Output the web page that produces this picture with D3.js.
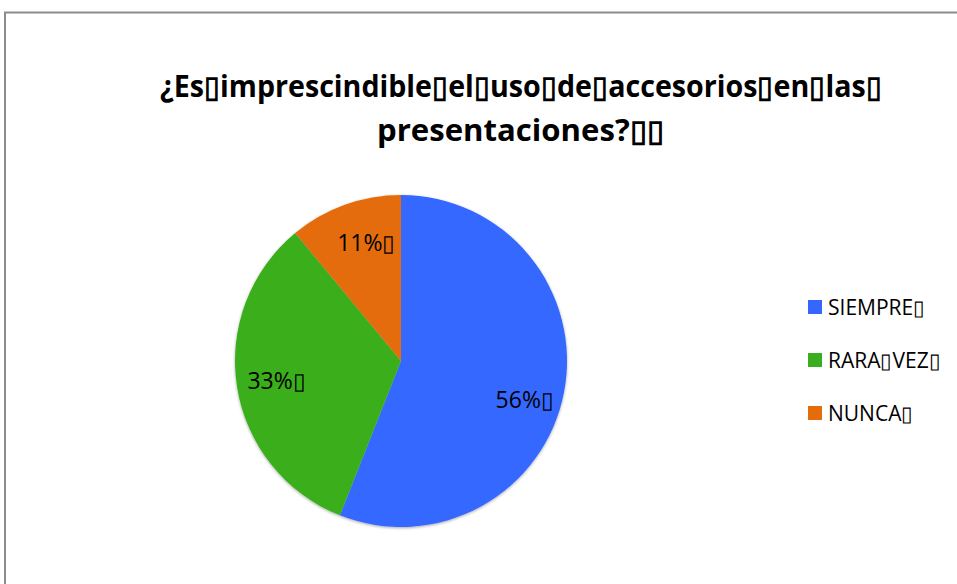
<!DOCTYPE html>
<meta charset="utf-8">
<style>
    body { margin: 0; background: #fff; }
    .title { font-family: "Open Sans", sans-serif; font-weight: bold; font-size: 30px; fill: #000; }
    .lbl { font-family: "Open Sans", sans-serif; font-size: 23px; fill: #000; }
    .leg { font-family: "Open Sans", sans-serif; font-size: 21px; fill: #000; }
</style>
<script src="https://d3js.org/d3.v7.min.js"></script>
<body>
    <div id="chart"></div>
    <script>
        var box = "\u25AF";
        var categories = ["SIEMPRE" + box, "RARA" + box + "VEZ" + box, "NUNCA" + box];
        var values = [56, 33, 11];
        var labels = ["56%" + box, "33%" + box, "11%" + box];
        var titleLines = [
            "¿Es" + box + "imprescindible" + box + "el" + box + "uso" + box + "de" + box + "accesorios" + box + "en" + box + "las" + box,
            "presentaciones?" + box + box
        ];
        var colors = ["#3567fe", "#3aae1e", "#e46c0b"];

        var svg = d3.select("#chart")
            .append("svg")
            .attr("width", 957)
            .attr("height", 584);

        // frame of the chart area (cut at right and bottom)
        svg.append("path")
            .attr("d", "M5,584 V12.5 H957")
            .attr("fill", "none")
            .attr("stroke", "#8c8c8c")
            .attr("stroke-width", 2);

        svg.selectAll(".title")
            .data(titleLines)
            .enter().append("text")
            .attr("class", "title")
            .attr("x", 521)
            .attr("y", function(d, i) { return 97 + i * 44; })
            .attr("text-anchor", "middle")
            .attr("textLength", function(d, i) { return i === 0 ? 722 : 288; })
            .attr("lengthAdjust", "spacingAndGlyphs")
            .text(function(d) { return d; });

        var cx = 401, cy = 361, r = 166;

        var defs = svg.append("defs");
        var f = defs.append("filter").attr("id", "shadow")
            .attr("x", "-10%").attr("y", "-10%").attr("width", "120%").attr("height", "120%");
        f.append("feGaussianBlur").attr("in", "SourceAlpha").attr("stdDeviation", 1.5);
        f.append("feOffset").attr("dx", 0).attr("dy", 1).attr("result", "b");
        f.append("feComponentTransfer").append("feFuncA").attr("type", "linear").attr("slope", 0.35);
        var m = f.append("feMerge");
        m.append("feMergeNode");
        m.append("feMergeNode").attr("in", "SourceGraphic");

        var pie = d3.pie().sort(null).value(function(d) { return d; });
        var arc = d3.arc().innerRadius(0).outerRadius(r);
        var labelArc = d3.arc().innerRadius(126).outerRadius(126);

        var g = svg.append("g")
            .attr("transform", "translate(" + cx + "," + cy + ")");

        var arcs = pie(values);

        g.append("g").attr("filter", "url(#shadow)")
            .selectAll("path")
            .data(arcs)
            .enter().append("path")
            .attr("d", arc)
            .attr("fill", function(d, i) { return colors[i]; });

        g.selectAll(".lbl")
            .data(arcs)
            .enter().append("text")
            .attr("class", "lbl")
            .attr("transform", function(d) { return "translate(" + labelArc.centroid(d) + ")"; })
            .attr("text-anchor", "middle")
            .attr("dx", function(d, i) { return i === 2 ? 8 : 0; })
            .attr("dy", function(d, i) { return i === 0 ? "1.0em" : "0.35em"; })
            .text(function(d, i) { return labels[i]; });

        var legend = svg.append("g")
            .attr("transform", "translate(808,300)");

        var item = legend.selectAll("g")
            .data(categories)
            .enter().append("g")
            .attr("transform", function(d, i) { return "translate(0," + (i * 53) + ")"; });

        item.append("rect")
            .attr("width", 14)
            .attr("height", 14)
            .attr("fill", function(d, i) { return colors[i]; });

        item.append("text")
            .attr("class", "leg")
            .attr("x", 20)
            .attr("y", 15)
            .text(function(d) { return d; });
    </script>
</body>
